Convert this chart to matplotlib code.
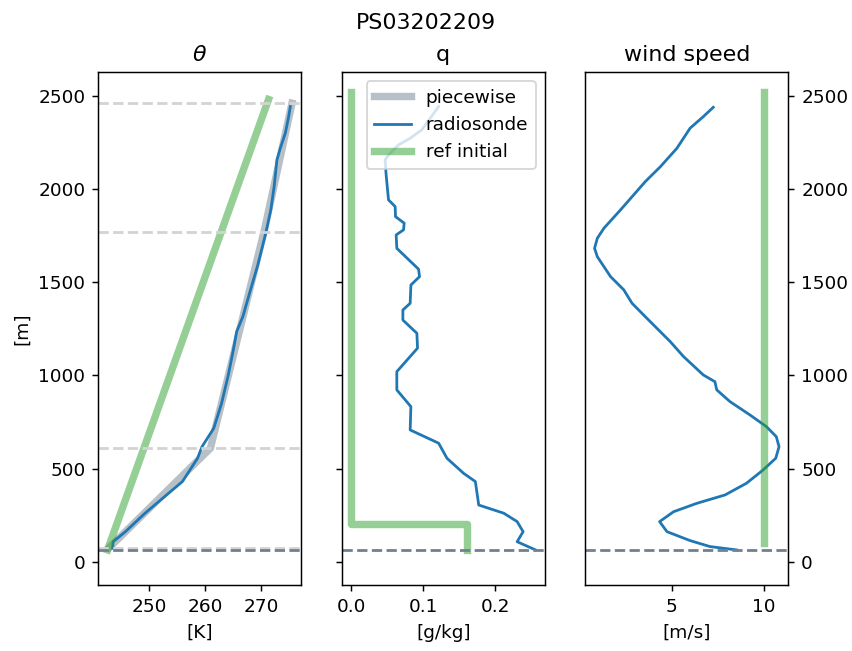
import matplotlib
matplotlib.use("Agg")
import matplotlib.pyplot as plt

# --- data ---
z_ground = 63

# radiosonde potential temperature
theta_z = [72, 107, 161, 260, 349, 430, 555, 617, 716, 850, 1002, 1136, 1235,
           1315, 1441, 1584, 1763, 1888, 2013, 2157, 2219, 2300, 2389, 2443]
theta_sonde = [243.4, 243.5, 245.7, 249.2, 252.7, 255.9, 258.6, 259.4, 261.5,
               262.9, 264.1, 265.0, 265.6, 266.7, 267.9, 269.3, 270.8, 271.7,
               272.3, 272.8, 273.4, 274.3, 274.9, 275.2]

# piecewise fit knots
pw_z = [75, 609, 1772, 2461]
pw_theta = [242.8, 260.9, 270.5, 275.5]

# reference initial theta
ref_theta_z = [63, 2481]
ref_theta = [242.5, 271.3]

# radiosonde specific humidity
q_z = [63, 107, 161, 215, 260, 304, 430, 474, 555, 636, 707, 832, 922, 1020,
       1146, 1226, 1297, 1351, 1387, 1485, 1530, 1570, 1682, 1754, 1781, 1817,
       1852, 1906, 1942, 2076, 2157, 2183, 2237, 2273, 2318, 2443]
q_sonde = [0.2556, 0.2301, 0.2384, 0.2301, 0.2116, 0.1769, 0.1722, 0.1560,
           0.1329, 0.1213, 0.0819, 0.0829, 0.0634, 0.0634, 0.0921, 0.0912,
           0.0718, 0.0718, 0.0819, 0.0829, 0.0949, 0.0935, 0.0634, 0.0625,
           0.0727, 0.0736, 0.0616, 0.0611, 0.0519, 0.0486, 0.0472, 0.0519,
           0.0657, 0.0819, 0.0981, 0.1213]

# reference initial q (step profile)
ref_q_z = [63, 200, 200, 2520]
ref_q = [0.1606, 0.1606, 0.0, 0.0]

# radiosonde wind speed
ws_z = [63, 81, 113, 161, 215, 268, 313, 358, 421, 492, 555, 617, 671, 725,
        788, 859, 922, 966, 1002, 1101, 1181, 1244, 1315, 1387, 1459, 1530,
        1637, 1682, 1736, 1790, 1888, 1969, 2040, 2120, 2219, 2327, 2389, 2439]
ws_sonde = [8.52, 7.07, 5.99, 4.73, 4.33, 5.09, 6.35, 7.89, 9.06, 9.96, 10.65,
            10.83, 10.68, 10.14, 9.24, 8.16, 7.44, 7.34, 6.71, 5.63, 4.91, 4.27,
            3.55, 2.83, 2.38, 1.66, 0.94, 0.79, 0.94, 1.30, 2.20, 2.92, 3.55,
            4.37, 5.27, 5.99, 6.71, 7.25]

ref_ws_z = [100, 2520]
ref_ws = [10.0, 10.0]

# --- figure ---
fig, axes = plt.subplots(1, 3, sharey=True, figsize=(852 / 133, 651 / 133), dpi=133)
fig.subplots_adjust(left=0.1154, right=0.9252, bottom=0.1009, top=0.889, wspace=0.2)
ax_t, ax_q, ax_w = axes

# theta panel
h_pw, = ax_t.plot(pw_theta, pw_z, color='slategray', alpha=0.5, lw=4, label='piecewise')
h_rs, = ax_t.plot(theta_sonde, theta_z, color='tab:blue', lw=1.5, label='radiosonde')
h_ref, = ax_t.plot(ref_theta, ref_theta_z, color='tab:green', alpha=0.5, lw=4, label='ref initial')
for zk in pw_z:
    ax_t.axhline(zk, color='lightgray', ls='--', lw=1.5)
ax_t.set_title(r'$\theta$')
ax_t.set_xlabel('[K]')
ax_t.set_ylabel('[m]')

# q panel
ax_q.plot(q_sonde, q_z, color='tab:blue', lw=1.5)
ax_q.plot(ref_q, ref_q_z, color='tab:green', alpha=0.5, lw=4)
ax_q.set_title('q')
ax_q.set_xlabel('[g/kg]')
ax_q.legend([h_pw, h_rs, h_ref], ['piecewise', 'radiosonde', 'ref initial'], loc='upper right')

# wind panel
ax_w.plot(ws_sonde, ws_z, color='tab:blue', lw=1.5)
ax_w.plot(ref_ws, ref_ws_z, color='tab:green', alpha=0.5, lw=4)
ax_w.set_title('wind speed')
ax_w.set_xlabel('[m/s]')
ax_w.yaxis.tick_right()
ax_w.tick_params(axis='y', labelright=True)

for ax in axes:
    ax.axhline(z_ground, color='slategray', ls='--', lw=1.5)

ax_t.set_ylim(-127, 2627)
ax_t.set_xticks([250, 260, 270])
ax_q.set_xticks([0.0, 0.1, 0.2])
ax_w.set_xticks([5, 10])

fig.suptitle('PS03202209')
fig.savefig('out.png', dpi=133)
